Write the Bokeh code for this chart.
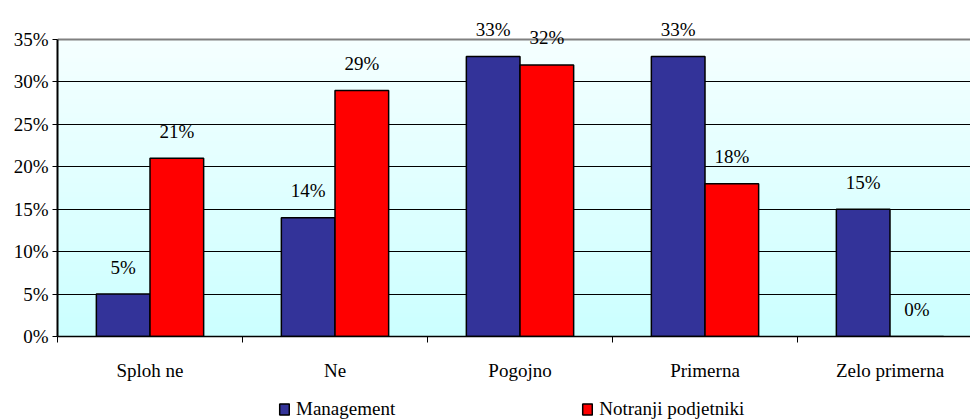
import numpy as np
from bokeh.plotting import figure
from bokeh.layouts import column
from bokeh.models import (Range1d, FixedTicker, PrintfTickFormatter, ColumnDataSource,
                          LabelSet, Legend, LegendItem, Grid)
from bokeh.embed import file_html
from bokeh.resources import INLINE

categories = ["Sploh ne", "Ne", "Pogojno", "Primerna", "Zelo primerna"]
management = [5, 14, 33, 33, 15]
notranji = [21, 29, 32, 18, 0]
series_names = ["Management", "Notranji podjetniki"]
y_ticks = [0, 5, 10, 15, 20, 25, 30, 35]

FONT = "'Liberation Serif', 'Times New Roman', serif"
FS = "19px"
BLUE = "#333399"
RED = "#FF0000"

n = len(categories)
idx = np.arange(n)
bw = 0.29
ymax = 35 + 23 / (297 / 35)

p = figure(width=970, height=383, output_backend="svg", toolbar_location=None,
           x_range=Range1d(0, 913 / 185), y_range=Range1d(0, ymax),
           min_border_left=57, min_border_top=16, min_border_bottom=47, min_border_right=0,
           background_fill_color="white", border_fill_color="white")

# background gradient of plot area (0..35)
grad = np.linspace(0, 1, 64)
top = np.array([245, 255, 255]); bot = np.array([204, 255, 255])
img = np.zeros((64, 1), dtype=np.uint32)
view = img.view(dtype=np.uint8).reshape((64, 1, 4))
for i, t in enumerate(grad):
    c = bot + (top - bot) * t
    view[i, 0, 0] = int(c[0]); view[i, 0, 1] = int(c[1]); view[i, 0, 2] = int(c[2]); view[i, 0, 3] = 255
p.image_rgba(image=[img], x=0, y=0, dw=6, dh=y_ticks[-1], level="image")

src_m = ColumnDataSource(dict(x=idx + 0.5 - bw / 2, top=management,
                              lab=[f"{v}%" for v in management]))
src_n = ColumnDataSource(dict(x=idx + 0.5 + bw / 2, top=notranji,
                              lab=[f"{v}%" for v in notranji]))

p.vbar(x="x", top="top", bottom=0, width=bw, source=src_m,
       fill_color=BLUE, line_color="black", line_width=1.5)
p.vbar(x="x", top="top", bottom=0, width=bw, source=src_n,
       fill_color=RED, line_color="black", line_width=1.5)

for s in (src_m, src_n):
    p.add_layout(LabelSet(x="x", y="top", text="lab", source=s, y_offset=27,
                          text_align="center", text_baseline="middle",
                          text_font=FONT, text_font_size=FS, text_color="black"))

# axes
p.xaxis.ticker = FixedTicker(ticks=list(idx + 0.5), minor_ticks=list(range(n + 1)))
p.xaxis.major_label_overrides = {float(i + 0.5): c for i, c in enumerate(categories)}
p.xaxis.major_tick_line_color = None
p.xaxis.minor_tick_out = 6
p.xaxis.minor_tick_in = 0
p.xaxis.minor_tick_line_color = "black"
p.xaxis.axis_line_color = "black"
p.xaxis.axis_line_width = 1.5
p.xaxis.major_label_standoff = 17
p.xaxis.major_label_text_font = FONT
p.xaxis.major_label_text_font_size = FS
p.xaxis.major_label_text_color = "black"

p.yaxis.ticker = FixedTicker(ticks=y_ticks)
p.yaxis.bounds = (y_ticks[0], y_ticks[-1])
p.yaxis.formatter = PrintfTickFormatter(format="%d%%")
p.yaxis.major_tick_out = 5
p.yaxis.major_tick_in = 0
p.yaxis.minor_tick_line_color = None
p.yaxis.axis_line_color = "black"
p.yaxis.axis_line_width = 2
p.yaxis.major_label_standoff = 4
p.yaxis.major_label_text_font = FONT
p.yaxis.major_label_text_font_size = FS
p.yaxis.major_label_text_color = "black"

p.xgrid.grid_line_color = None
p.ygrid.ticker = FixedTicker(ticks=y_ticks[1:-1])
p.ygrid.grid_line_color = "black"
p.ygrid.grid_line_width = 1
p.add_layout(Grid(dimension=1, ticker=FixedTicker(ticks=[y_ticks[-1]]),
                  grid_line_color="#808080", grid_line_width=2))
p.outline_line_color = None

# legend strip (hidden renderers; only the legend shows)
q = figure(width=970, height=37, output_backend="svg", toolbar_location=None,
           x_range=Range1d(0, 913 / 185), y_range=Range1d(-2, -1),
           x_axis_type=None, y_axis_type=None,
           min_border=0, min_border_left=57, min_border_right=0, min_border_top=0,
           min_border_bottom=0, outline_line_color=None,
           background_fill_color="white", border_fill_color="white")
q.xgrid.visible = False
q.ygrid.visible = False
lr_m = q.vbar(x="x", top="top", bottom=0, width=bw, source=src_m,
              fill_color=BLUE, line_color="black", line_width=1.5, visible=False)
lr_n = q.vbar(x="x", top="top", bottom=0, width=bw, source=src_n,
              fill_color=RED, line_color="black", line_width=1.5, visible=False)
lg = Legend(items=[LegendItem(label=series_names[0], renderers=[lr_m]),
                   LegendItem(label=series_names[1], renderers=[lr_n])],
            location=(221, 0), orientation="horizontal", padding=0, margin=0, spacing=186,
            glyph_width=12, glyph_height=14, label_standoff=6,
            label_text_font=FONT, label_text_font_size=FS, label_text_color="black",
            border_line_color=None, background_fill_alpha=0, inactive_fill_alpha=0)
q.add_layout(lg, "center")

layout = column(p, q, spacing=0)
open("out.html", "w").write(file_html(layout, INLINE))
